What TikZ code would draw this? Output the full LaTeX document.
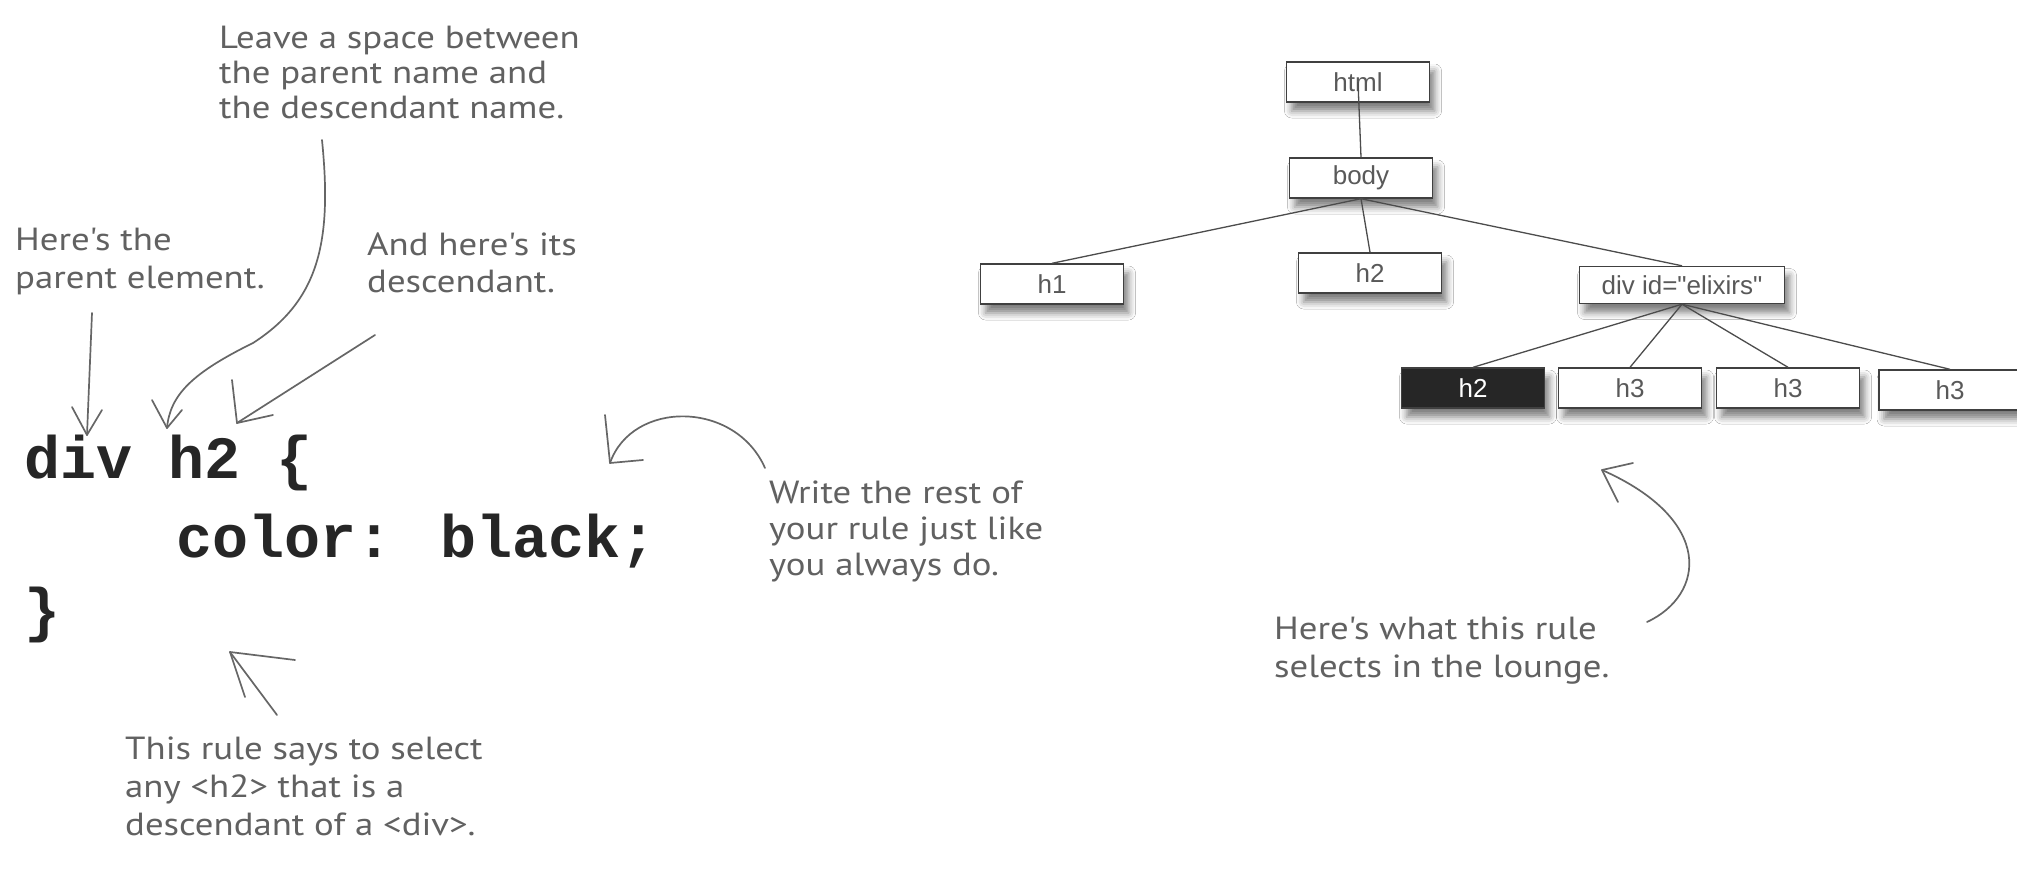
\documentclass[tikz,border=0pt]{standalone}
\usepackage{fontspec}
\setmainfont{Liberation Sans}
\newfontfamily\labelfont{Liberation Sans}
\newfontfamily\handfont[FakeStretch=1.15]{PT Sans}
\newfontfamily\codefont{Liberation Mono}
\usetikzlibrary{arrows.meta,shadows.blur}
\tikzset{
  treebox/.style={draw=black!75, line width=1.4pt, fill=white, minimum width=143pt,
    minimum height=40pt, inner sep=0pt, font=\labelfont\fontsize{26}{28}\selectfont, text=black!65,
    blur shadow={shadow xshift=5pt, shadow yshift=-9pt, shadow blur radius=7pt, shadow opacity=50}},
  selbox/.style={treebox, fill=black!85, text=white},
  treeedge/.style={draw=black!70, line width=1.3pt},
  handnote/.style={font=\handfont\fontsize{32}{36}\selectfont, text=black!62, align=left,
    inner sep=0pt, anchor=north west},
  codetext/.style={font=\codefont\bfseries\fontsize{60}{70}\selectfont, text=black!85,
    inner sep=0pt, anchor=base west},
  notearrow/.style={draw=black!60, line width=1.7pt, line cap=round, line join=round}
}
\begin{document}
\begin{tikzpicture}[x=1pt,y=-1pt]
\useasboundingbox (0,0) rectangle (2017,883);
\fill[white] (0,0) rectangle (2017,883);

% tree
\node[treebox] (html) at (1358,82) {html};
\node[treebox] (body) at (1361,178) {body};
\node[treebox] (h1) at (1052,284) {h1};
\node[treebox] (h2) at (1370,273) {h2};
\node[treebox, minimum width=205pt, minimum height=37pt] (div) at (1682,285) {div id="elixirs"};
\node[selbox] (sel) at (1473,388) {h2};
\node[treebox] (h3a) at (1630,388) {h3};
\node[treebox] (h3b) at (1788,388) {h3};
\node[treebox, minimum width=142pt] (h3c) at (1950,390) {h3};

\draw[treeedge] (html.center) -- (body.north);
\draw[treeedge] (body.south) -- (h1.north);
\draw[treeedge] (body.south) -- (h2.north);
\draw[treeedge] (body.south) -- (div.north);
\draw[treeedge] (div.south) -- (sel.north);
\draw[treeedge] (div.south) -- (h3a.north);
\draw[treeedge] (div.south) -- (h3b.north);
\draw[treeedge] (div.south) -- (h3c.north);

% code
\node[codetext] (c1) at (24,478) {div h2 \{};
\node[codetext] (c2) at (176,557) {color: black;};
\node[codetext] (c3) at (24,630) {\}};

% notes
\node[handnote, font=\handfont\fontsize{32}{35}\selectfont] (t1) at (219,26) {Leave a space between\\the parent name and\\the descendant name.};
\node[handnote, font=\handfont\fontsize{32}{38}\selectfont] (t2) at (15,228) {Here's the\\parent element.};
\node[handnote, font=\handfont\fontsize{32}{37}\selectfont] (t3) at (367,233) {And here's its\\descendant.};
\node[handnote] (t4) at (769,481) {Write the rest of\\your rule just like\\you always do.};
\node[handnote, font=\handfont\fontsize{32}{38}\selectfont] (t5) at (125,737) {This rule says to select\\any <h2> that is a\\descendant of a <div>.};
\node[handnote, font=\handfont\fontsize{32}{38}\selectfont] (t6) at (1274,617) {Here's what this rule\\selects in the lounge.};

% arrow 1: parent element
\coordinate (a1s) at (92,313);  \coordinate (a1e) at (87,435);
\coordinate (a1l) at (72,407);  \coordinate (a1r) at (102,410);
\draw[notearrow] (a1s) -- (a1e);
\draw[notearrow] (a1l) -- (a1e) -- (a1r);
% arrow 2: leave a space
\coordinate (a2s) at (322,140); \coordinate (a2e) at (167,428);
\coordinate (a2l) at (152,400); \coordinate (a2r) at (182,410);
\draw[notearrow] (a2s) .. controls (332,240) and (320,300) .. (253,343)
  .. controls (192,373) and (170,395) .. (a2e);
\draw[notearrow] (a2l) -- (a2e) -- (a2r);
% arrow 3: descendant
\coordinate (a3s) at (375,335); \coordinate (a3e) at (237,423);
\coordinate (a3l) at (232,380); \coordinate (a3r) at (273,415);
\draw[notearrow] (a3s) -- (a3e);
\draw[notearrow] (a3l) -- (a3e) -- (a3r);
% arrow 4: this rule
\coordinate (a4s) at (277,715); \coordinate (a4e) at (230,652);
\coordinate (a4l) at (245,697); \coordinate (a4r) at (295,660);
\draw[notearrow] (a4s) -- (a4e);
\draw[notearrow] (a4l) -- (a4e) -- (a4r);
% arrow 5: write the rest
\coordinate (a5s) at (765,468); \coordinate (a5e) at (610,463);
\coordinate (a5l) at (605,415); \coordinate (a5r) at (643,460);
\draw[notearrow] (a5s) .. controls (735,400) and (632,400) .. (a5e);
\draw[notearrow] (a5l) -- (a5e) -- (a5r);
% arrow 6: lounge
\coordinate (a6s) at (1647,622); \coordinate (a6e) at (1602,470);
\coordinate (a6l) at (1618,502); \coordinate (a6r) at (1633,463);
\draw[notearrow] (a6s) .. controls (1705,595) and (1715,520) .. (a6e);
\draw[notearrow] (a6l) -- (a6e) -- (a6r);
\end{tikzpicture}
\end{document}
